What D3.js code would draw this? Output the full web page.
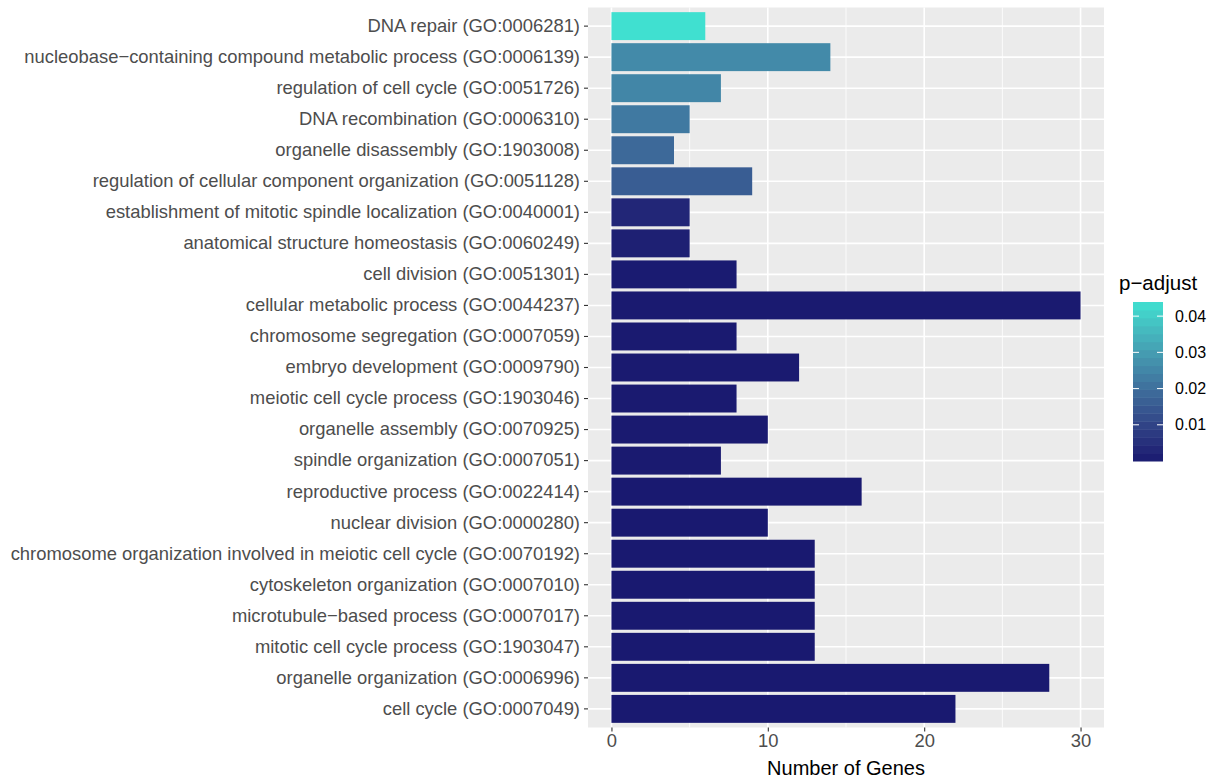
<!DOCTYPE html>
<html>
<head>
<meta charset="utf-8">
<script src="https://cdn.jsdelivr.net/npm/d3@7"></script>
<style>
  body { margin: 0; background: #fff; }
  text { font-family: "Liberation Sans", Arial, Helvetica, sans-serif; }
</style>
</head>
<body>
<div id="chart"></div>
<script>
// GO terms, top to bottom as drawn
const terms = [
    "DNA repair (GO:0006281)",
    "nucleobase\u2212containing compound metabolic process (GO:0006139)",
    "regulation of cell cycle (GO:0051726)",
    "DNA recombination (GO:0006310)",
    "organelle disassembly (GO:1903008)",
    "regulation of cellular component organization (GO:0051128)",
    "establishment of mitotic spindle localization (GO:0040001)",
    "anatomical structure homeostasis (GO:0060249)",
    "cell division (GO:0051301)",
    "cellular metabolic process (GO:0044237)",
    "chromosome segregation (GO:0007059)",
    "embryo development (GO:0009790)",
    "meiotic cell cycle process (GO:1903046)",
    "organelle assembly (GO:0070925)",
    "spindle organization (GO:0007051)",
    "reproductive process (GO:0022414)",
    "nuclear division (GO:0000280)",
    "chromosome organization involved in meiotic cell cycle (GO:0070192)",
    "cytoskeleton organization (GO:0007010)",
    "microtubule\u2212based process (GO:0007017)",
    "mitotic cell cycle process (GO:1903047)",
    "organelle organization (GO:0006996)",
    "cell cycle (GO:0007049)"
];

const geneCounts = [6, 14, 7, 5, 4, 9, 5, 5, 8, 30, 8, 12, 8, 10, 7, 16, 10, 13, 13, 13, 13, 28, 22];

const pAdjust = [0.0439, 0.026, 0.0251, 0.0222, 0.0187, 0.0158, 0.003, 0.0015, 0.0004, 0.0002,
    0.0002, 0.0002, 0.0002, 0.0002, 0.0002, 0.0001, 0.0001, 0.0001, 0.0001, 0.0001,
    0.0001, 0.00001, 0.00001];

const xTicks = [0, 10, 20, 30];
const xMinor = [5, 15, 25];
const legendTicks = [0.01, 0.02, 0.03, 0.04];
const pRange = [0.00001, 0.0439];

const W = 1222, H = 782;
const panel = { left: 588, right: 1104, top: 7.5, bottom: 727.5 };

const svg = d3.select("#chart").append("svg")
    .attr("width", W)
    .attr("height", H);

// Scales
const x = d3.scaleLinear()
    .domain([-1.5, 31.5])
    .range([panel.left, panel.right]);

// ggplot style: 0.6 step from edge to first bar centre, bar width 0.9
const y = d3.scaleBand()
    .domain(terms)
    .range([panel.top, panel.bottom])
    .paddingInner(0.1)
    .paddingOuter(0.15);

const color = d3.scaleLinear()
    .domain(pRange)
    .range(["#191970", "#40E0D0"])
    .interpolate(d3.interpolateLab);

// Panel background
svg.append("rect")
    .attr("x", panel.left)
    .attr("y", panel.top)
    .attr("width", panel.right - panel.left)
    .attr("height", panel.bottom - panel.top)
    .attr("fill", "#EBEBEB");

// Grid lines
svg.selectAll(".minor-grid")
    .data(xMinor)
    .enter().append("line")
    .attr("class", "minor-grid")
    .attr("x1", d => x(d)).attr("x2", d => x(d))
    .attr("y1", panel.top).attr("y2", panel.bottom)
    .attr("stroke", "#fff").attr("stroke-width", 0.8);

svg.selectAll(".major-grid")
    .data(xTicks)
    .enter().append("line")
    .attr("class", "major-grid")
    .attr("x1", d => x(d)).attr("x2", d => x(d))
    .attr("y1", panel.top).attr("y2", panel.bottom)
    .attr("stroke", "#fff").attr("stroke-width", 1.6);

svg.selectAll(".y-grid")
    .data(terms)
    .enter().append("line")
    .attr("class", "y-grid")
    .attr("x1", panel.left).attr("x2", panel.right)
    .attr("y1", d => y(d) + y.bandwidth() / 2)
    .attr("y2", d => y(d) + y.bandwidth() / 2)
    .attr("stroke", "#fff").attr("stroke-width", 1.6);

// Bars
svg.selectAll(".bar")
    .data(terms)
    .enter().append("rect")
    .attr("class", "bar")
    .attr("x", x(0))
    .attr("y", d => y(d))
    .attr("height", y.bandwidth())
    .attr("width", (d, i) => x(geneCounts[i]) - x(0))
    .attr("fill", (d, i) => color(pAdjust[i]));

// Axes
const yAxis = d3.axisLeft(y).tickSize(4).tickPadding(4);
const gy = svg.append("g")
    .attr("transform", "translate(" + panel.left + ",0)")
    .call(yAxis);
gy.select(".domain").remove();
gy.selectAll(".tick line").attr("stroke", "#333").attr("stroke-width", 1.1);
gy.selectAll(".tick text")
    .attr("fill", "#4D4D4D")
    .style("font-size", "18.4px");

const xAxis = d3.axisBottom(x).tickValues(xTicks).tickSize(4).tickPadding(2);
const gx = svg.append("g")
    .attr("transform", "translate(0," + panel.bottom + ")")
    .call(xAxis);
gx.select(".domain").remove();
gx.selectAll(".tick line").attr("stroke", "#333").attr("stroke-width", 1.1);
gx.selectAll(".tick text")
    .attr("fill", "#4D4D4D")
    .style("font-size", "18.4px");

// Axis title
svg.append("text")
    .attr("x", (panel.left + panel.right) / 2)
    .attr("y", 775)
    .attr("text-anchor", "middle")
    .style("font-size", "20px")
    .attr("fill", "#000")
    .text("Number of Genes");

// Legend (20 bins, like a ggplot colourbar)
const legend = { x: 1133, w: 30, top: 302, bottom: 461 };
const ly = d3.scaleLinear()
    .domain(pRange)
    .range([legend.bottom, legend.top]);

svg.append("text")
    .attr("x", legend.x - 14)
    .attr("y", 290)
    .style("font-size", "20.5px")
    .attr("fill", "#000")
    .text("p\u2212adjust");

const nbin = 20;
const binH = (legend.bottom - legend.top) / nbin;
svg.selectAll(".lbin")
    .data(d3.range(nbin))
    .enter().append("rect")
    .attr("class", "lbin")
    .attr("x", legend.x)
    .attr("y", i => legend.bottom - (i + 1) * binH)
    .attr("width", legend.w)
    .attr("height", binH + 0.5)
    .attr("fill", i => color(ly.invert(legend.bottom - (i + 0.5) * binH)));

const lt = svg.selectAll(".ltick")
    .data(legendTicks)
    .enter().append("g")
    .attr("class", "ltick");
lt.append("line")
    .attr("x1", legend.x).attr("x2", legend.x + 6)
    .attr("y1", d => ly(d)).attr("y2", d => ly(d))
    .attr("stroke", "#fff").attr("stroke-width", 1);
lt.append("line")
    .attr("x1", legend.x + legend.w - 6).attr("x2", legend.x + legend.w)
    .attr("y1", d => ly(d)).attr("y2", d => ly(d))
    .attr("stroke", "#fff").attr("stroke-width", 1);
lt.append("text")
    .attr("x", legend.x + legend.w + 12)
    .attr("y", d => ly(d))
    .attr("dy", "0.35em")
    .style("font-size", "16px")
    .attr("fill", "#000")
    .text(d => d.toFixed(2));
</script>
</body>
</html>
